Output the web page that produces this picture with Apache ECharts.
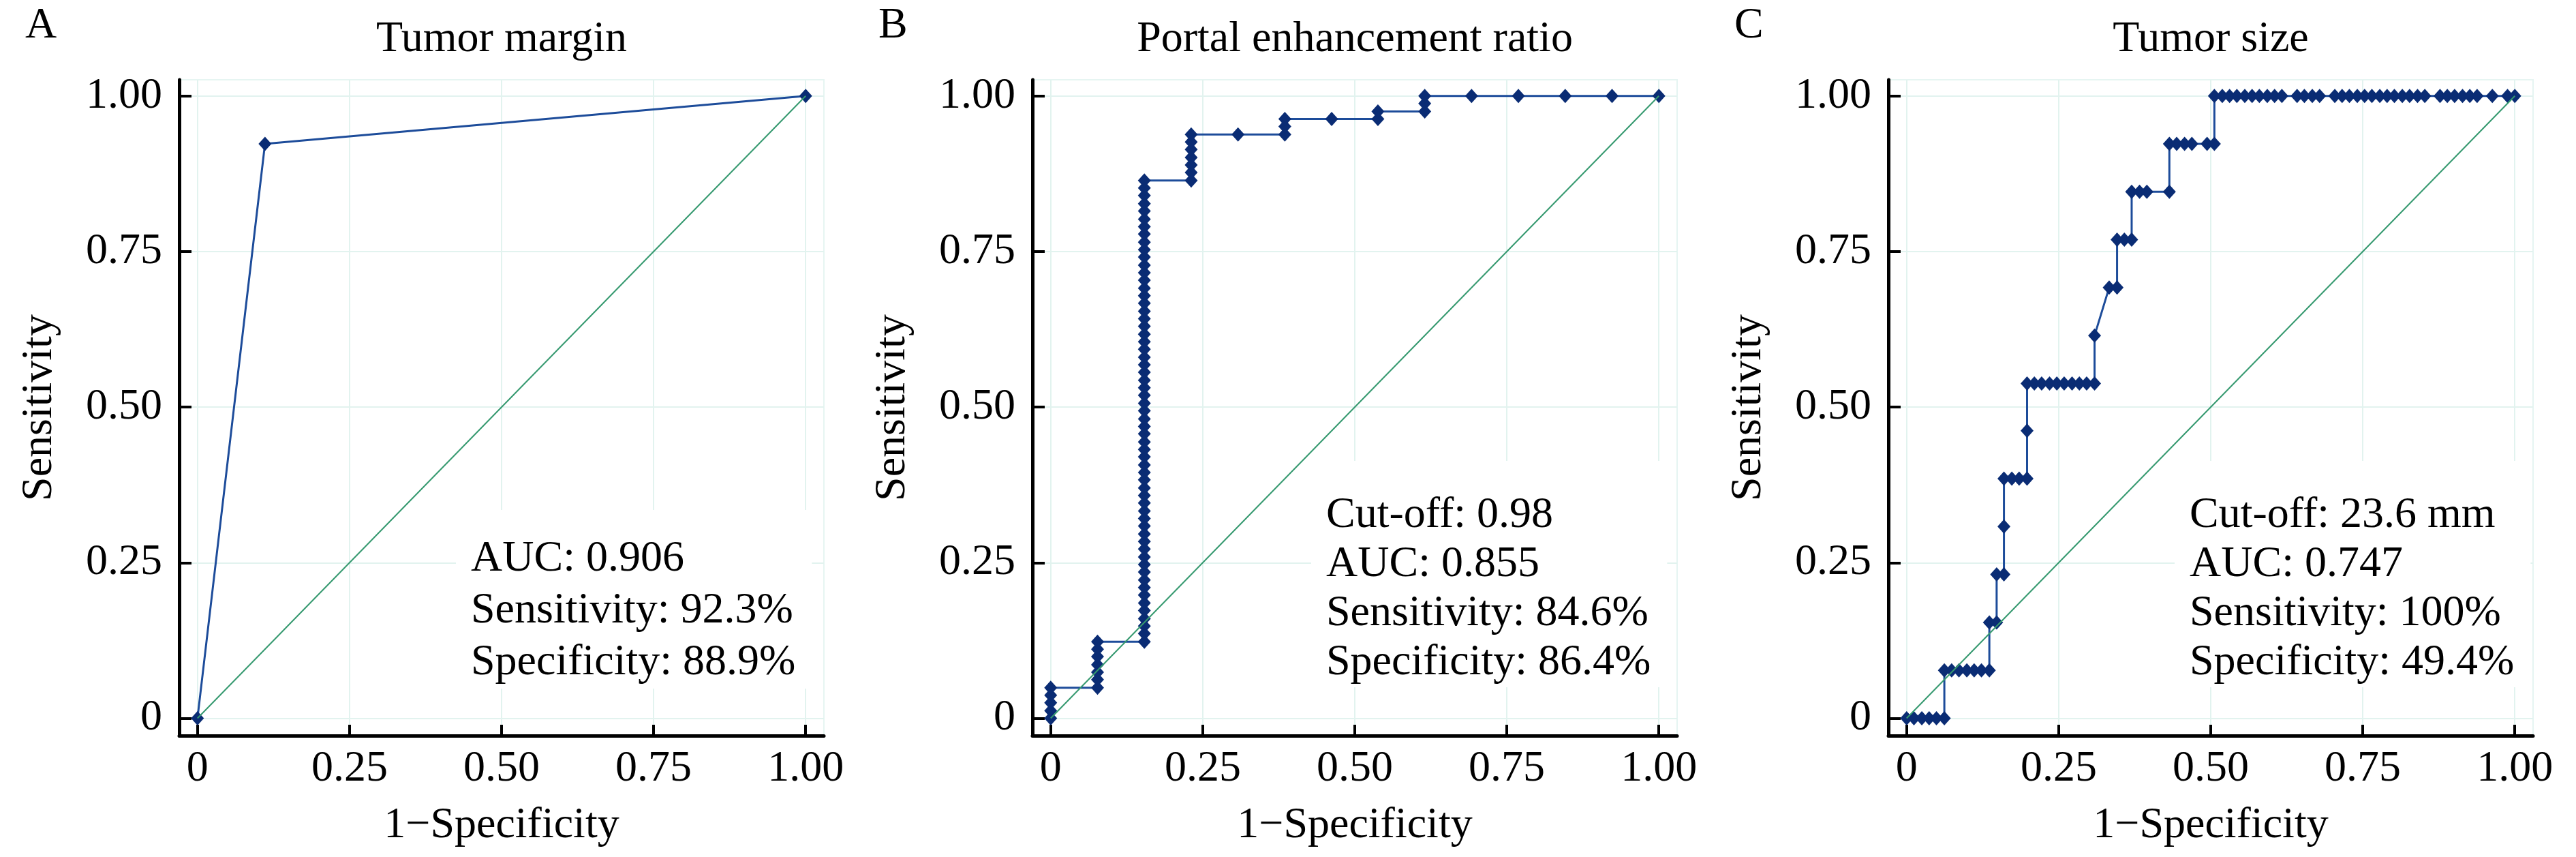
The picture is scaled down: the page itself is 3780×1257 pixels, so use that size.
<!DOCTYPE html>
<html>
<head>
<meta charset="utf-8">
<script src="https://cdn.jsdelivr.net/npm/echarts@6.0.0/dist/echarts.min.js"></script>
<style>
html,body{margin:0;padding:0;background:#fff;}
#c{width:3780px;height:1257px;}
</style>
</head>
<body>
<div id="c"></div>
<script>
// ---------- shared text / ticks ----------
const tickValues = [0, 0.25, 0.5, 0.75, 1];
const tickLabels = ['0', '0.25', '0.50', '0.75', '1.00'];
const panelLetters = ['A', 'B', 'C'];
const panelTitles = ['Tumor margin', 'Portal enhancement ratio', 'Tumor size'];
const xAxisTitle = '1\u2212Specificity';
const yAxisTitle = 'Sensitivity';
const chanceLine = [0, 1];

// ---------- Panel A: tumor margin ----------
const marginFpr = [0, 0.111, 1];
const marginTpr = [0, 0.923, 1];
const marginStats = ['AUC: 0.906', 'Sensitivity: 92.3%', 'Specificity: 88.9%'];

// ---------- Panel B: portal enhancement ratio (columns of points) ----------
const portalColX = [0, 0.077, 0.154, 0.231, 0.308, 0.385, 0.462, 0.538, 0.615, 0.692, 0.769, 0.846, 0.923, 1];
const portalColY = [
  [0, 0.012, 0.025, 0.037, 0.049],
  [0.049, 0.062, 0.074, 0.086, 0.099, 0.111, 0.123],
  [0.123, 0.136, 0.148, 0.160, 0.173, 0.185, 0.198, 0.210, 0.222, 0.235, 0.247, 0.259, 0.272, 0.284, 0.296,
   0.309, 0.321, 0.333, 0.346, 0.358, 0.370, 0.383, 0.395, 0.407, 0.420, 0.432, 0.444, 0.457, 0.469, 0.481,
   0.494, 0.506, 0.519, 0.531, 0.543, 0.556, 0.568, 0.580, 0.593, 0.605, 0.617, 0.630, 0.642, 0.654, 0.667,
   0.679, 0.691, 0.704, 0.716, 0.728, 0.741, 0.753, 0.765, 0.778, 0.790, 0.802, 0.815, 0.827, 0.840, 0.852, 0.864],
  [0.864, 0.877, 0.889, 0.901, 0.914, 0.926, 0.938],
  [0.938],
  [0.938, 0.951, 0.963],
  [0.963],
  [0.963, 0.975],
  [0.975, 0.988, 1],
  [1], [1], [1], [1], [1]
];
const portalStats = ['Cut-off: 0.98', 'AUC: 0.855', 'Sensitivity: 84.6%', 'Specificity: 86.4%'];

// ---------- Panel C: tumor size (rows of points) ----------
const sizeRowY = [0, 0.077, 0.154, 0.231, 0.308, 0.385, 0.462, 0.538, 0.615, 0.692, 0.769, 0.846, 0.923, 1];
const sizeRowX = [
  [0, 0.012, 0.025, 0.037, 0.049, 0.062],
  [0.062, 0.074, 0.086, 0.099, 0.111, 0.123, 0.136],
  [0.136, 0.148],
  [0.148, 0.160],
  [0.160],
  [0.160, 0.173, 0.185, 0.198],
  [0.198],
  [0.198, 0.210, 0.222, 0.235, 0.247, 0.259, 0.272, 0.284, 0.296, 0.309],
  [0.309],
  [0.333, 0.346],
  [0.346, 0.358, 0.370],
  [0.370, 0.383, 0.395, 0.432],
  [0.432, 0.444, 0.457, 0.469, 0.494, 0.506],
  [0.506, 0.519, 0.531, 0.543, 0.556, 0.568, 0.580, 0.593, 0.605, 0.617,
   0.642, 0.654, 0.667, 0.679,
   0.704, 0.716, 0.728, 0.741, 0.753, 0.765, 0.778, 0.790, 0.802, 0.815, 0.827, 0.840, 0.852,
   0.877, 0.889, 0.901, 0.914, 0.926, 0.938,
   0.963, 0.988, 1]
];
const sizeStats = ['Cut-off: 23.6 mm', 'AUC: 0.747', 'Sensitivity: 100%', 'Specificity: 49.4%'];

// ---------- build point lists ----------
function pairs(xs, ys) { return xs.map((x, i) => [x, ys[i]]); }
function fromColumns(xs, ys) {
  const pts = [];
  xs.forEach((x, i) => ys[i].forEach(y => pts.push([x, y])));
  return pts;
}
function fromRows(ys, xs) {
  const pts = [];
  ys.forEach((y, i) => xs[i].forEach(x => pts.push([x, y])));
  return pts;
}
const rocData = [
  pairs(marginFpr, marginTpr),
  fromColumns(portalColX, portalColY),
  fromRows(sizeRowY, sizeRowX)
];
const statsText = [marginStats, portalStats, sizeStats];

// ---------- layout ----------
const FONT = 'Liberation Serif';
const gridLeft = [263, 1515, 2771];
const gridTop = 117, gridW = 946, gridH = 962;
const statLeft = [691, 1946, 3213];
const statTop = [748, 676, 676];
const statPadTop = [34, 44, 44];
const statLine = [76, 72, 72];

function fmt(v) {
  for (let i = 0; i < tickValues.length; i++) {
    if (Math.abs(tickValues[i] - v) < 1e-9) return tickLabels[i];
  }
  return '';
}

const grids = [], xAxes = [], yAxes = [], series = [], graphics = [];
for (let i = 0; i < 3; i++) {
  grids.push({
    left: gridLeft[i], top: gridTop, width: gridW, height: gridH,
    show: true, borderColor: '#e6f5f2', borderWidth: 2, backgroundColor: 'transparent',
    containLabel: false, outerBoundsMode: 'none'
  });
  xAxes.push({
    type: 'value', gridIndex: i, min: -0.03, max: 1.03,
    name: xAxisTitle, nameLocation: 'middle', nameGap: 100, nameMoveOverlap: false,
    nameTextStyle: { fontSize: 64, fontFamily: FONT, color: '#000' },
    axisLine: { show: true, onZero: false, lineStyle: { color: '#000', width: 5 } },
    axisTick: { show: true, inside: true, length: 16, customValues: tickValues, lineStyle: { color: '#000', width: 4 } },
    axisLabel: { show: true, customValues: tickValues, formatter: fmt, fontSize: 64, fontFamily: FONT, color: '#000', margin: 17 },
    splitLine: { show: true, lineStyle: { color: '#e2f3ef', width: 2 } }
  });
  yAxes.push({
    type: 'value', gridIndex: i, min: -0.028, max: 1.026,
    name: yAxisTitle, nameLocation: 'middle', nameGap: 173, nameMoveOverlap: false,
    nameTextStyle: { fontSize: 64, fontFamily: FONT, color: '#000' },
    axisLine: { show: true, onZero: false, lineStyle: { color: '#000', width: 5 } },
    axisTick: { show: true, inside: true, length: 18, customValues: tickValues, lineStyle: { color: '#000', width: 4 } },
    axisLabel: { show: true, customValues: tickValues, formatter: fmt, fontSize: 64, fontFamily: FONT, color: '#000', margin: 25 },
    splitLine: { show: true, lineStyle: { color: '#e2f3ef', width: 2 } }
  });
  series.push({
    type: 'line', xAxisIndex: i, yAxisIndex: i, data: rocData[i],
    symbol: 'diamond', symbolSize: [19, 21], showAllSymbol: true,
    lineStyle: { color: '#1d4c9a', width: 3 },
    itemStyle: { color: '#0a2c74' },
    emphasis: { disabled: true }, z: 3
  });
  series.push({
    type: 'line', xAxisIndex: i, yAxisIndex: i,
    data: [[chanceLine[0], chanceLine[0]], [chanceLine[1], chanceLine[1]]],
    symbol: 'none', lineStyle: { color: '#35996f', width: 2 },
    emphasis: { disabled: true }, z: 4
  });
  const cx = gridLeft[i] + gridW / 2;
  graphics.push({
    type: 'text', x: cx, y: 58, z: 20,
    style: { text: panelTitles[i], fontSize: 64, fontFamily: FONT, fill: '#000', align: 'center', verticalAlign: 'middle' }
  });
  graphics.push({
    type: 'text', x: gridLeft[i] - 226, y: 38, z: 20,
    style: { text: panelLetters[i], fontSize: 64, fontFamily: FONT, fill: '#000', align: 'left', verticalAlign: 'middle' }
  });
  graphics.push({
    type: 'text', x: statLeft[i] - 22, y: statTop[i], z: 20,
    style: {
      text: statsText[i].join('\n'), fontSize: 64, fontFamily: FONT, fill: '#000',
      lineHeight: statLine[i], align: 'left', verticalAlign: 'top',
      backgroundColor: '#ffffff', padding: [statPadTop[i], 24, 0, 22]
    }
  });
}

const chart = echarts.init(document.getElementById('c'), null, { renderer: 'canvas' });
chart.setOption({
  animation: false,
  backgroundColor: '#ffffff',
  grid: grids,
  xAxis: xAxes,
  yAxis: yAxes,
  series: series,
  graphic: { elements: graphics }
});
</script>
</body>
</html>
